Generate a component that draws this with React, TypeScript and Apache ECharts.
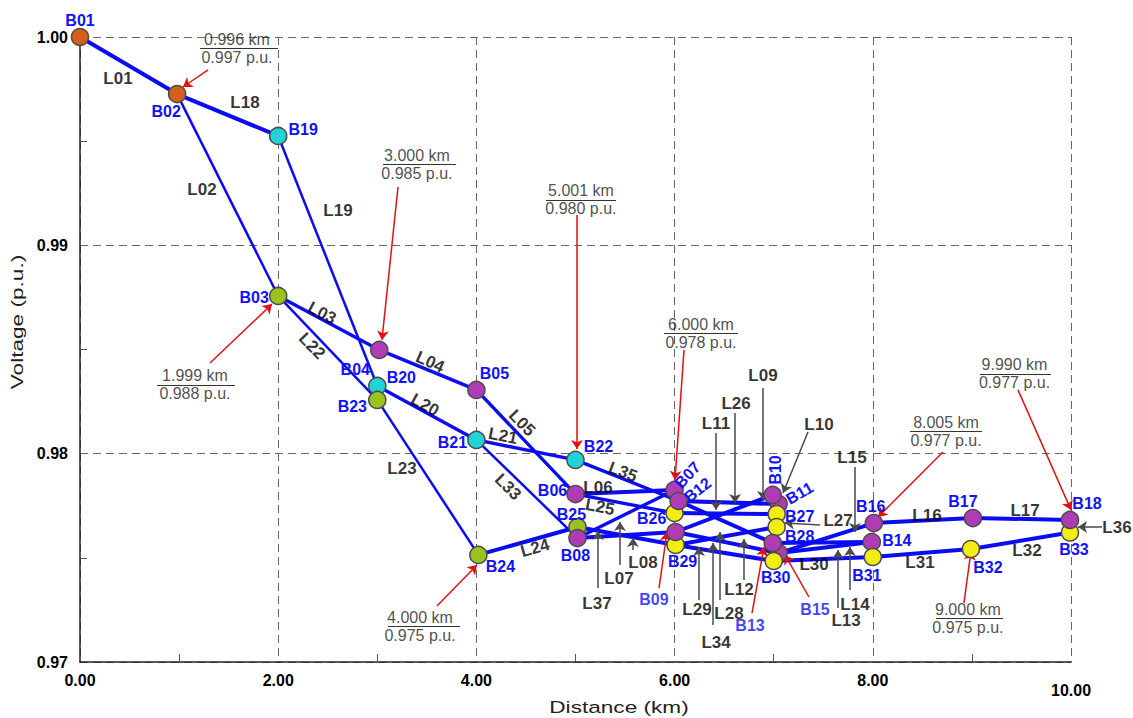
import React, { useEffect, useRef } from "react";
import * as echarts from "echarts";

// ---------------- data ----------------
const xTicks = [0, 2, 4, 6, 8, 10];
const yTicks = [0.97, 0.98, 0.99, 1.0];

// buses, listed in drawing order
const busIds = ["B01","B02","B19","B03","B04","B20","B23","B05","B21","B22","B06","B24","B25","B08","B07","B26","B12","B29","B09","B11","B10","B27","B28","B15","B30","B13","B14","B31","B16","B17","B32","B33","B18"];
const busDistance = [0.0,0.98,2.0,2.0,3.02,3.0,3.0,4.0,4.0,5.0,5.0,4.02,5.02,5.02,6.0,6.0,6.04,6.01,6.01,7.05,6.99,7.03,7.03,7.05,7.0,6.99,7.99,8.0,8.01,9.01,8.99,9.99,9.99];
const busVoltage = [1.0,0.99726,0.99525,0.98757,0.98498,0.98325,0.98258,0.98306,0.98066,0.9797,0.97806,0.97514,0.97648,0.97595,0.97826,0.97715,0.97773,0.97562,0.97624,0.97758,0.97802,0.9771,0.97648,0.97523,0.97485,0.97571,0.97576,0.97504,0.97667,0.97691,0.97542,0.97622,0.97682];
const busKind = ["src","src","cyan","green","purple","cyan","green","purple","cyan","cyan","purple","green","green","purple","purple","yellow","purple","yellow","purple","purple","purple","yellow","yellow","purple","yellow","purple","purple","yellow","purple","purple","yellow","yellow","purple"];

// branches
const lineIds = ["L01","L02","L03","L04","L05","L06","L07","L08","L09","L10","L11","L12","L13","L14","L15","L16","L17","L18","L19","L20","L21","L22","L23","L24","L25","L26","L27","L28","L29","L30","L31","L32","L33","L34","L35","L36","L37"];
const lineFrom = ["B01","B02","B03","B04","B05","B06","B07","B08","B09","B10","B11","B12","B13","B14","B15","B16","B17","B02","B19","B20","B21","B03","B23","B24","B06","B26","B27","B28","B29","B30","B31","B32","B08","B09","B12","B18","B25"];
const lineTo = ["B02","B03","B04","B05","B06","B07","B08","B09","B10","B11","B12","B13","B14","B15","B16","B17","B18","B19","B20","B21","B22","B23","B24","B25","B26","B27","B28","B29","B30","B31","B32","B33","B21","B15","B22","B33","B29"];
const lineLoad = ["h","l","m","m","m","h","m","h","h","h","h","h","h","h","h","h","h","h","l","m","m","l","l","h","m","h","h","h","h","h","h","h","l","h","m","h","h"];

// callouts: distance / voltage readings
const calloutKm = ["0.996 km","3.000 km","5.001 km","6.000 km","8.005 km","9.990 km","9.000 km","4.000 km","1.999 km"];
const calloutPu = ["0.997 p.u.","0.985 p.u.","0.980 p.u.","0.978 p.u.","0.977 p.u.","0.977 p.u.","0.975 p.u.","0.975 p.u.","0.988 p.u."];

// ---------------- layout (annotation placement, in km / p.u.) ----------------
const calloutAt = [[1.584,0.99945],[3.40,0.99388],[5.055,0.99218],[6.266,0.98577],[8.739,0.98107],[9.43,0.98383],[8.96,0.97209],[3.431,0.97171],[1.16,0.9833]];
const calloutRule = [[1.211,1.998],[3.058,3.794],[4.702,5.409],[5.893,6.64],[8.375,9.102],[9.082,9.798],[8.638,9.314],[3.108,3.835],[0.777,1.564]];
const calloutArrow = [
  [[1.292,0.99842],[1.039,0.9976]],
  [[3.209,0.9928],[3.047,0.98546]],
  [[5.015,0.99146],[5.015,0.98022]],
  [[6.095,0.98498],[6.004,0.97874]],
  [[8.708,0.98008],[8.053,0.97696]],
  [[9.465,0.98306],[10.0,0.9773]],
  [[8.92,0.97283],[8.991,0.97533]],
  [[3.602,0.97269],[4.006,0.97466]],
  [[1.312,0.98435],[1.937,0.98718]],
];

// bus name offset on screen [dx, dy, rotation°]
const busLabelLayout: Record<string, [number, number, number] | null> = {
  B01:[0,-17,0],B02:[-11,17,0],B19:[25,-6,0],B03:[-24,2,0],B04:[-24,20,0],B20:[24,-8,0],B23:[-25,7,0],
  B05:[18,-16,0],B21:[-24,3,0],B22:[23,-13,0],B06:[-23,-4,0],B24:[22,12,0],B25:[-6,-13,0],B08:[-2,17,0],
  B07:[13,-15,47],B26:[-23,5,0],B12:[19,-11,38],B29:[7,17,0],B09:null,B11:[21,-11,30],B10:[3,-25,90],
  B27:[23,2,0],B28:[23,9,0],B15:null,B30:[2,17,0],B13:null,B14:[25,-2,0],B31:[-6,18,0],B16:[-3,-17,0],
  B17:[-10,-17,0],B32:[17,18,0],B33:[4,17,0],B18:[17,-16,0],
};
// bus names placed away from their marks, with red pointer arrows
const farBusLabels: { id: string; at: [number, number]; arrow: [number, number][] }[] = [
  { id: "B09", at: [5.792,0.97302], arrow: [[5.843,0.97355],[5.923,0.97624]] },
  { id: "B13", at: [6.761,0.97173], arrow: [[6.781,0.97235],[6.902,0.97552]] },
  { id: "B15", at: [7.417,0.97254], arrow: [[7.356,0.97312],[7.114,0.97514]] },
];

// branch name placement: [km, p.u., rotation]
const lineLabelLayout: Record<string, [number, number, number]> = {
  L01:[0.383,0.99803,0],L18:[1.665,0.99688,0],L02:[1.231,0.9927,0],L19:[2.603,0.99165,0],
  L03:[2.442,0.98675,-28],L22:[2.341,0.98517,-46],L04:[3.532,0.9844,-24],L20:[3.481,0.98234,-29],
  L21:[4.268,0.98085,-11],L05:[4.46,0.98147,-46],L23:[3.249,0.97931,0],L33:[4.319,0.9784,-45],
  L24:[4.591,0.97547,16],L35:[5.479,0.97912,-21],L06:[5.227,0.9784,0],L25:[5.247,0.97744,-11],
  L16:[8.547,0.97705,0],L17:[9.536,0.97725,0],L31:[8.476,0.9748,0],L32:[9.556,0.97533,0],
  L30:[7.407,0.97466,0],L36:[10.464,0.97648,0],L09:[6.892,0.98373,0],L26:[6.62,0.98243,0],
  L11:[6.418,0.98147,0],L10:[7.457,0.98142,0],L15:[7.79,0.97984,0],L27:[7.649,0.97677,0],
  L13:[7.73,0.97197,0],L14:[7.82,0.97278,0],L12:[6.65,0.97346,0],L28:[6.549,0.97235,0],
  L34:[6.418,0.97096,0],L29:[6.226,0.9725,0],L08:[5.681,0.9748,0],L07:[5.439,0.97403,0],
  L37:[5.217,0.97283,0],
};
// gray pointer arrows from branch names to their branches
const lineArrows: [number, number][][] = [
  [[6.892,0.98315],[6.892,0.97778]],
  [[6.61,0.98195],[6.61,0.97763]],
  [[6.418,0.98099],[6.418,0.9773]],
  [[7.346,0.98104],[7.094,0.97811]],
  [[7.82,0.97936],[7.82,0.97624]],
  [[7.467,0.97658],[7.114,0.97667]],
  [[7.649,0.97259],[7.649,0.97538]],
  [[7.77,0.97346],[7.77,0.97552]],
  [[6.7,0.97394],[6.7,0.9759]],
  [[6.458,0.97298],[6.458,0.97624]],
  [[6.388,0.97178],[6.388,0.97571]],
  [[6.246,0.97298],[6.246,0.97552]],
  [[5.58,0.97538],[5.58,0.97595]],
  [[5.449,0.97466],[5.449,0.97672]],
  [[5.227,0.97355],[5.227,0.97629]],
  [[10.313,0.97648],[10.071,0.97648]],
];

// ---------------- styles ----------------
const FONT = '"Liberation Sans", Arial, sans-serif';
const kindColor: Record<string, string> = {
  src: "#d2601a", cyan: "#1fd3d6", green: "#9bc31f", purple: "#b03cb5", yellow: "#f3ee12",
};
const loadWidth: Record<string, number> = { h: 4, m: 3.4, l: 2.5 };
const LINE_BLUE = "#0c0cf0";

// label offsets are applied in the label's rotated frame; convert a screen offset
function localOffset(dx: number, dy: number, deg: number): [number, number] {
  const t = (deg * Math.PI) / 180;
  const c = Math.cos(t), s = Math.sin(t);
  return [dx * c - dy * s, dx * s + dy * c];
}

function buildOption() {
  const idx: Record<string, number> = {};
  busIds.forEach((id, i) => (idx[id] = i));
  const pt = (id: string) => [busDistance[idx[id]], busVoltage[idx[id]]];

  const edgeData = lineIds.map((id, i) => ({
    name: id,
    coords: [pt(lineFrom[i]), pt(lineTo[i])],
    lineStyle: { width: loadWidth[lineLoad[i]] },
  }));

  const busData = busIds.map((id, i) => {
    const lay = busLabelLayout[id];
    return {
      name: id,
      value: [busDistance[i], busVoltage[i]],
      itemStyle: { color: kindColor[busKind[i]] },
      label: lay
        ? { show: true, offset: localOffset(lay[0], lay[1], lay[2]), rotate: lay[2] }
        : { show: false },
    };
  });

  const lineLabelData = lineIds.map((id) => {
    const l = lineLabelLayout[id];
    return { name: id, value: [l[0], l[1]], label: { rotate: l[2] } };
  });

  const calloutData = calloutKm.map((km, i) => ({
    name: km,
    value: calloutAt[i],
    label: { formatter: `{a|${km}}\n{a|${calloutPu[i]}}` },
  }));

  const ruleData = calloutRule.map((r, i) => ({
    coords: [[r[0], calloutAt[i][1]], [r[1], calloutAt[i][1]]],
  }));

  const redArrows = [
    ...calloutArrow.map((c) => ({ coords: c })),
    ...farBusLabels.map((f) => ({ coords: f.arrow })),
  ];

  return {
    animation: false,
    backgroundColor: "#ffffff",
    grid: { left: 80, right: 62, top: 37, bottom: 56, containLabel: false },
    xAxis: {
      type: "value",
      min: xTicks[0],
      max: xTicks[xTicks.length - 1],
      interval: xTicks[1] - xTicks[0],
      axisLine: { show: true, onZero: false, lineStyle: { color: "#222", width: 1.5 } },
      axisTick: { show: false, inside: true },
      minorTick: { show: true, splitNumber: 2, length: 8, lineStyle: { color: "#555", width: 1 } },
      splitLine: { show: true, lineStyle: { color: "#666", type: [8, 5], width: 1 } },
      axisLabel: {
        margin: 10,
        formatter: (v: number) => (v === 10 ? `{lo|${v.toFixed(2)}}` : `{n|${v.toFixed(2)}}`),
        rich: {
          n: { fontFamily: FONT, fontWeight: "bold", fontSize: 16, color: "#000" },
          lo: { fontFamily: FONT, fontWeight: "bold", fontSize: 16, color: "#000", padding: [10, 0, 0, 0] },
        },
      },
    },
    yAxis: {
      type: "value",
      min: yTicks[0],
      max: yTicks[yTicks.length - 1],
      interval: 0.01,
      axisLine: { show: true, onZero: false, lineStyle: { color: "#222", width: 1.5 } },
      axisTick: { show: false, inside: true },
      minorTick: { show: true, splitNumber: 2, length: 7, lineStyle: { color: "#555", width: 1 } },
      splitLine: { show: true, lineStyle: { color: "#666", type: [8, 5], width: 1 } },
      axisLabel: {
        margin: 12,
        formatter: (v: number) => v.toFixed(2),
        fontFamily: FONT, fontWeight: "bold", fontSize: 16, color: "#000",
      },
    },
    graphic: [
      {
        type: "text", x: 619, y: 707, scaleX: 1.33, silent: true,
        style: { text: "Distance (km)", font: `17px ${FONT}`, fill: "#222", align: "center", verticalAlign: "middle" },
      },
      {
        type: "text", x: 17, y: 322, rotation: Math.PI / 2, scaleX: 1.33, silent: true,
        style: { text: "Voltage (p.u.)", font: `17px ${FONT}`, fill: "#222", align: "center", verticalAlign: "middle" },
      },
    ],
    series: [
      {
        type: "lines", coordinateSystem: "cartesian2d", clip: false, silent: true, z: 2,
        lineStyle: { color: LINE_BLUE, opacity: 1, curveness: 0 },
        data: edgeData,
      },
      {
        type: "lines", coordinateSystem: "cartesian2d", clip: false, silent: true, z: 3,
        symbol: ["none", "arrow"], symbolSize: 9,
        lineStyle: { color: "#4a4a4a", width: 1.5, opacity: 1 },
        data: lineArrows.map((c) => ({ coords: c })),
      },
      {
        type: "lines", coordinateSystem: "cartesian2d", clip: false, silent: true, z: 3,
        symbol: ["none", "arrow"], symbolSize: 9,
        lineStyle: { color: "#e01212", width: 1.5, opacity: 1 },
        data: redArrows,
      },
      {
        type: "lines", coordinateSystem: "cartesian2d", clip: false, silent: true, z: 3,
        symbol: ["none", "none"],
        lineStyle: { color: "#333", width: 1, opacity: 1 },
        data: ruleData,
      },
      {
        type: "scatter", clip: false, silent: true, z: 5,
        symbol: "circle", symbolSize: 17,
        itemStyle: { borderColor: "#4d4d4d", borderWidth: 1.5, opacity: 1 },
        label: {
          show: true, position: "inside", formatter: "{b}", align: "center", verticalAlign: "middle",
          color: "#1212f5", fontFamily: FONT, fontWeight: "bold", fontSize: 16,
        },
        data: busData,
      },
      {
        type: "scatter", clip: false, silent: true, z: 6, symbolSize: 0,
        label: {
          show: true, position: "inside", formatter: "{b}", align: "center", verticalAlign: "middle",
          color: "#000", fontFamily: FONT, fontWeight: "bold", fontSize: 17,
        },
        data: lineLabelData,
      },
      {
        type: "scatter", clip: false, silent: true, z: 6, symbolSize: 0,
        label: {
          show: true, position: "inside", formatter: "{b}", align: "center", verticalAlign: "middle",
          color: "#1212f5", fontFamily: FONT, fontWeight: "bold", fontSize: 16,
        },
        data: farBusLabels.map((f) => ({ name: f.id, value: f.at })),
      },
      {
        type: "scatter", clip: false, silent: true, z: 6, symbolSize: 0,
        label: {
          show: true, position: "inside", align: "center", verticalAlign: "middle",
          rich: { a: { fontFamily: FONT, fontSize: 16, color: "#222", lineHeight: 18, align: "center" } },
        },
        data: calloutData,
      },
    ],
  };
}

export default function App() {
  const ref = useRef<HTMLDivElement>(null);
  useEffect(() => {
    document.body.style.margin = "0";
    const chart = echarts.init(ref.current!, null, { renderer: "svg" });
    chart.setOption(buildOption() as any);
    return () => chart.dispose();
  }, []);
  return <div ref={ref} style={{ width: 1133, height: 718 }} />;
}
